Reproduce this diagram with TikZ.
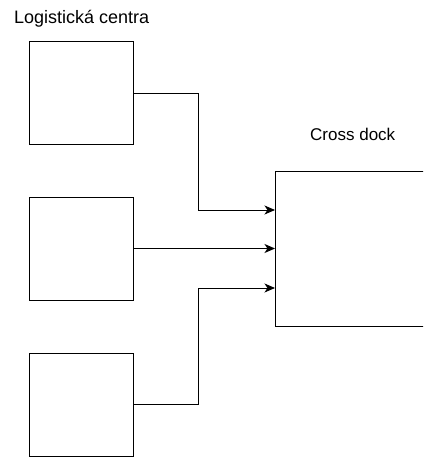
\documentclass[tikz,border=0pt]{standalone}
\usepackage{fontspec}
\setmainfont{Liberation Sans}
\usetikzlibrary{arrows.meta}
\begin{document}
\begin{tikzpicture}[x=1pt,y=-1pt,
  box/.style={draw=black,line width=1pt,rectangle,minimum width=103.5pt,minimum height=103pt,inner sep=0pt},
  bigbox/.style={draw=black,line width=1pt,rectangle,minimum width=155pt,minimum height=155pt,inner sep=0pt},
  conn/.style={draw=black,line width=1pt},
  arr/.style={conn,-{Stealth[length=10.5pt,width=9pt,inset=3pt]}},
  lbl/.style={inner sep=0pt}]
\useasboundingbox (0,0) rectangle (423,457);
\clip (0,0) rectangle (423,457);
\node[lbl,font=\fontsize{18}{21}\selectfont,anchor=base west] (t1) at (14,23.5) {Logistická centra};
\node[lbl,font=\fontsize{17}{20}\selectfont,anchor=base west] (t2) at (310,141) {Cross dock};
\node[box] (b1) at (81.25,93.5) {};
\node[box] (b2) at (81.25,248.5) {};
\node[box] (b3) at (81.25,404.5) {};
\node[bigbox] (cd) at (353,249) {};
\draw[arr] (b1.east) -- ++(64.5,0) |- ([yshift=39pt]cd.west);
\draw[arr] (b2.east) -- (b2.east -| cd.west);
\draw[arr] (b3.east) -- ++(64.5,0) |- ([yshift=-39pt]cd.west);
\end{tikzpicture}
\end{document}
